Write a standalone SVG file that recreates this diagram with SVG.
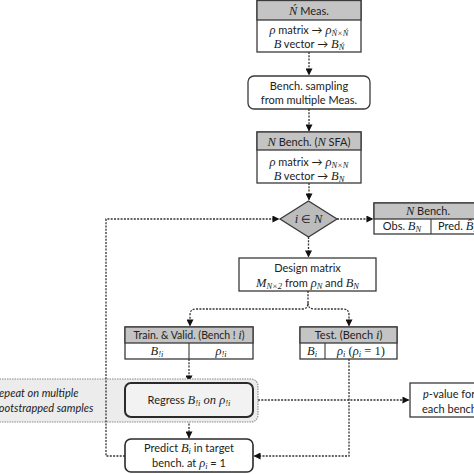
<svg xmlns="http://www.w3.org/2000/svg" width="474" height="474" viewBox="0 0 474 474">
<defs>
<marker id="ah" viewBox="0 0 8 8" refX="7.5" refY="4" markerWidth="7" markerHeight="7" markerUnits="userSpaceOnUse" orient="auto">
<path d="M0,0 L8,4 L0,8 Z" fill="#111"/>
</marker>
<style>
.box{fill:#fff;stroke:#3a3a3a;stroke-width:1.3}
.hdr{fill:#c4c4c4;stroke:#3a3a3a;stroke-width:1.3}
.ln{stroke:#3a3a3a;stroke-width:1.1}
.c{fill:none;stroke:#333;stroke-width:1.3;stroke-dasharray:2 1.3}
.t{font-family:Lato,"Liberation Sans",sans-serif;font-size:11px;fill:#222;text-anchor:middle}
.l{text-anchor:start}
.i{font-style:italic}
.m{font-family:"Liberation Serif","DejaVu Serif",serif;font-style:italic;font-size:12.5px}
.u{font-style:normal}
.s{font-size:8.5px}
</style>
</defs>
<rect width="474" height="474" fill="#fff"/>

<g id="connectors">
<path class="c" d="M309,52 V75" marker-end="url(#ah)"/>
<path class="c" d="M309,109 V131" marker-end="url(#ah)"/>
<path class="c" d="M309,183 V200" marker-end="url(#ah)"/>
<path class="c" d="M337,219 H373" marker-end="url(#ah)"/>
<path class="c" d="M308.5,237 V257" marker-end="url(#ah)"/>
<path class="c" d="M308,291 V303 Q308,309 302,309 H196 Q190,309 190,315 V326" marker-end="url(#ah)"/>
<path class="c" d="M308,303 Q308,309 314,309 H343 Q349,309 349,315 V326" marker-end="url(#ah)"/>
<path class="c" d="M189,359 V382" marker-end="url(#ah)"/>
<path class="c" d="M258,400 H409" marker-end="url(#ah)"/>
<path class="c" d="M189,417 V438" marker-end="url(#ah)"/>
<path class="c" d="M349,359 V456 H254" marker-end="url(#ah)"/>
</g>

<g id="repeat">
<rect x="-10" y="379" width="268" height="43" rx="7" fill="#ececec" stroke="#888" stroke-width="1.1" stroke-dasharray="1.5 1"/>
<text class="t l i" x="-7" y="397">Repeat on multiple</text>
<text class="t l i" x="-7" y="412">bootstrapped samples</text>
</g>

<g id="loop">
<path class="c" d="M125,456 H106 V219 H279" marker-end="url(#ah)"/>
</g>

<g id="meas">
<rect class="box" x="257" y="0.5" width="104" height="51.5"/>
<rect class="hdr" x="257" y="0.5" width="104" height="19.5"/>
<text class="t" x="309" y="15"><tspan class="m">Ń</tspan> Meas.</text>
<text class="t" x="309" y="34"><tspan class="m">ρ</tspan> matrix → <tspan class="m">ρ</tspan><tspan class="m s" dy="2">Ń×Ń</tspan></text>
<text class="t" x="309" y="48"><tspan class="m">B</tspan> vector → <tspan class="m">B</tspan><tspan class="m s" dy="2">Ń</tspan></text>
</g>

<g id="sampling">
<rect class="box" x="248" y="76" width="122" height="33" rx="6"/>
<text class="t" x="309" y="90">Bench. sampling</text>
<text class="t" x="309" y="104">from multiple Meas.</text>
</g>

<g id="nbench">
<rect class="box" x="257" y="132" width="104" height="51"/>
<rect class="hdr" x="257" y="132" width="104" height="18"/>
<text class="t" x="309" y="145.5"><tspan class="m">N</tspan> Bench. (<tspan class="m">N</tspan> SFA)</text>
<text class="t" x="309" y="166"><tspan class="m">ρ</tspan> matrix → <tspan class="m">ρ</tspan><tspan class="m s" dy="2">N×N</tspan></text>
<text class="t" x="309" y="179.5"><tspan class="m">B</tspan> vector → <tspan class="m">B</tspan><tspan class="m s" dy="2">N</tspan></text>
</g>

<g id="decision">
<polygon points="280,219 308.5,201 337,219 308.5,237" fill="#bcbcbc" stroke="#3a3a3a" stroke-width="1.3"/>
<text class="t" x="308.5" y="223"><tspan class="m">i</tspan> ∈ <tspan class="m">N</tspan></text>
</g>

<g id="table">
<rect class="box" x="374" y="203" width="112" height="31"/>
<rect class="hdr" x="374" y="203" width="112" height="16"/>
<line class="ln" x1="431" y1="219" x2="431" y2="234"/>
<text class="t" x="428" y="215"><tspan class="m">N</tspan> Bench.</text>
<text class="t" x="402" y="230">Obs. <tspan class="m">B</tspan><tspan class="m s" dy="2">N</tspan></text>
<text class="t l" x="438" y="230">Pred. <tspan class="m">B̂</tspan><tspan class="m s" dy="2">N</tspan></text>
</g>

<g id="design">
<rect class="box" x="239" y="258" width="137" height="33"/>
<text class="t" x="307.5" y="272">Design matrix</text>
<text class="t" x="307.5" y="287"><tspan class="m">M</tspan><tspan class="m s" dy="2">N×2</tspan><tspan dy="-2"> from </tspan><tspan class="m">ρ</tspan><tspan class="m s" dy="2">N</tspan><tspan dy="-2"> and </tspan><tspan class="m">B</tspan><tspan class="m s" dy="2">N</tspan></text>
</g>

<g id="train">
<rect class="box" x="125" y="327" width="128" height="32"/>
<rect class="hdr" x="125" y="327" width="128" height="16"/>
<line class="ln" x1="189" y1="343" x2="189" y2="359"/>
<text class="t" x="189" y="339" style="font-size:10.5px">Train. &amp; Valid. (Bench ! <tspan class="m">i</tspan>)</text>
<text class="t" x="157" y="355"><tspan class="m">B</tspan><tspan class="m s" dy="2">!i</tspan></text>
<text class="t" x="221" y="355"><tspan class="m">ρ</tspan><tspan class="m s" dy="2">!i</tspan></text>
</g>

<g id="test">
<rect class="box" x="300" y="327" width="97" height="32"/>
<rect class="hdr" x="300" y="327" width="97" height="16"/>
<line class="ln" x1="325" y1="343" x2="325" y2="359"/>
<text class="t" x="348.5" y="339">Test. (Bench <tspan class="m">i</tspan>)</text>
<text class="t" x="312" y="355"><tspan class="m">B</tspan><tspan class="m s" dy="2">i</tspan></text>
<text class="t" x="361" y="355"><tspan class="m">ρ</tspan><tspan class="m s" dy="2">i</tspan><tspan class="m u" dy="-2"> (</tspan><tspan class="m">ρ</tspan><tspan class="m s" dy="2">i</tspan><tspan class="m u" dy="-2"> = 1)</tspan></text>
</g>

<g id="regress">
<rect x="125" y="383" width="128" height="34" rx="6" fill="#f2f2f2" stroke="#2a2a2a" stroke-width="2"/>
<text class="t" x="189" y="404">Regress <tspan class="m">B</tspan><tspan class="m s" dy="2">!i</tspan><tspan class="m" dy="-2"> on ρ</tspan><tspan class="m s" dy="2">!i</tspan></text>
</g>

<g id="pvalue">
<rect class="box" x="410" y="383" width="90" height="34"/>
<text class="t l" x="423" y="398"><tspan class="i">p</tspan>-value for</text>
<text class="t l" x="422" y="413">each bench.</text>
</g>

<g id="predict">
<rect x="125" y="439" width="128" height="33" rx="6" fill="#fff" stroke="#2a2a2a" stroke-width="1.6"/>
<text class="t" x="189" y="452">Predict <tspan class="m">B</tspan><tspan class="m s" dy="2">i</tspan><tspan dy="-2"> in target</tspan></text>
<text class="t" x="189" y="467">bench. at <tspan class="m">ρ</tspan><tspan class="m s" dy="2">i</tspan><tspan dy="-2"> = 1</tspan></text>
</g>
</svg>
